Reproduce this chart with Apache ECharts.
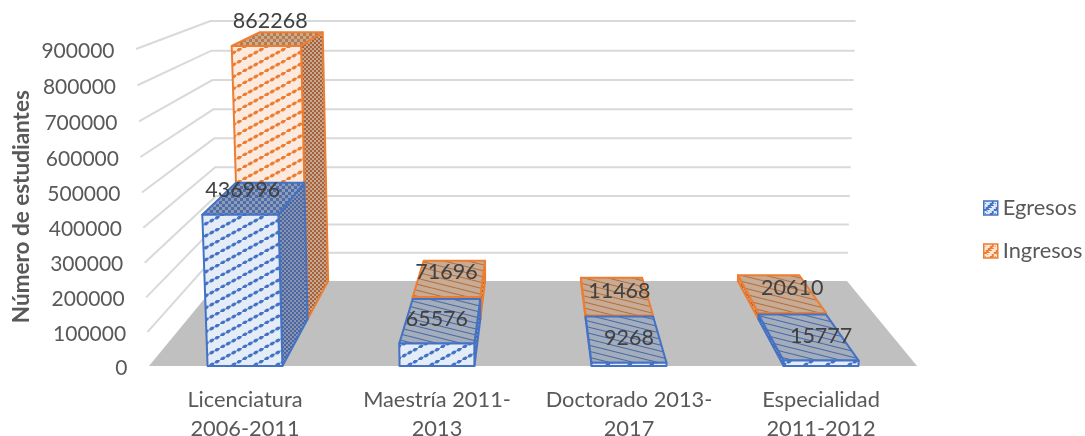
<!DOCTYPE html>
<html><head><meta charset="utf-8">
<style>html,body{margin:0;padding:0;background:#fff}#c{width:1085px;height:436px}</style>
<script src="https://cdn.jsdelivr.net/npm/echarts@6/dist/echarts.min.js"></script>
</head><body><div id="c"></div>
<script>
const categories = ['Licenciatura\n2006-2011','Maestría 2011-\n2013','Doctorado 2013-\n2017','Especialidad\n2011-2012'];
const egresos = [436996,65576,9268,15777];
const ingresos = [862268,71696,11468,20610];
const tickValues = [0,100000,200000,300000,400000,500000,600000,700000,800000,900000];

const FONT='Lato';
const BLUE='#4472C4', ORANGE='#ED7D31';
// perspective of the 3-D box: depth d runs 0 (front) .. 1 (back)
const GRID={left:149,right:168,top:47.4,bottom:70};
const W=1085,H=436, VX=533, FRONT_Y=H-GRID.bottom, SPAN=FRONT_Y-GRID.top;
const P=-0.0327, Q=0.223, DEPTH_DY=-22.3;
function project(fx,fy,d){
  const v=(FRONT_Y-fy)/SPAN, w=1+P*v+Q*d;
  return [VX+(fx-VX)/w,(fy+DEPTH_DY*d)/w];
}
function tile(w,h,bg,draw){
  const c=document.createElement('canvas');c.width=w;c.height=h;
  const g=c.getContext('2d');g.fillStyle=bg;g.fillRect(0,0,w,h);draw(g);
  return {image:c,repeat:'repeat'};
}
function beads(bg,col){return tile(22,12,bg,g=>{
  g.strokeStyle=col;g.lineWidth=1.1;g.globalAlpha=.6;
  g.beginPath();g.moveTo(0,12);g.lineTo(22,0);g.stroke();g.globalAlpha=1;
  g.fillStyle=col;
  for(let k=0;k<4;k++){const x=k*5.5+2.75,y=12-x*12/22;g.beginPath();g.ellipse(x,y,2.5,1.7,-0.5,0,7);g.fill();}
});}
function dots(bg,col,s){return tile(s,s,bg,g=>{
  g.fillStyle=col;g.fillRect(0,0,s/2,s/2);g.fillRect(s/2,s/2,s/2,s/2);
});}
function hatch(bg,col){return tile(24,6,bg,g=>{
  g.strokeStyle=col;g.lineWidth=1.1;
  for(const o of [-6,0,6]){g.beginPath();g.moveTo(0,o);g.lineTo(24,o+6);g.stroke();}
});}
const SKIN={
 Egresos:{line:BLUE,front:beads('#e4ecf8',BLUE),side:dots('#8795b0','#4a659f',4),top:dots('#8d9cb8','#4d6ca8',6),flat:hatch('#a4adbc','#4a6aa6')},
 Ingresos:{line:ORANGE,front:beads('#fdeade',ORANGE),side:dots('#c4a893','#a8623a',4),top:dots('#c9ab92','#b87a4a',6),flat:hatch('#c8ab94','#b4703f')}
};
function legendIcon(col,bg){return tile(10,10,bg,g=>{g.fillStyle=col;for(let k=0;k<5;k++){g.fillRect(k*2,8-k*2,3,3);g.fillRect(k*2+5>9?k*2-5:k*2+5,8-k*2,1,1);}});}
function poly(points,fill,line){return {type:'polygon',shape:{points},style:{fill,stroke:line,lineWidth:2,lineJoin:'round'}};}
function barItem(name,d0,d1,params,api){
  const i=api.value(0), val=api.value(1), skin=SKIN[name];
  const half=api.size([1,0])[0]*0.195;
  const b=api.coord([i,0]), t=api.coord([i,val]);
  const xl=b[0]-half, xr=b[0]+half;
  const corner=(x,top,d)=>project(x,top?t[1]:b[1],d);
  const ch=[];
  const lf=[corner(xl,0,d0),corner(xr,0,d0),corner(xr,1,d0),corner(xl,1,d0)];
  const tp=[corner(xl,1,d0),corner(xr,1,d0),corner(xr,1,d1),corner(xl,1,d1)];
  if(xr<VX) ch.push(poly([corner(xr,0,d0),corner(xr,0,d1),corner(xr,1,d1),corner(xr,1,d0)],skin.side,skin.line));
  if(xl>VX) ch.push(poly([corner(xl,0,d0),corner(xl,0,d1),corner(xl,1,d1),corner(xl,1,d0)],skin.side,skin.line));
  ch.push(poly(tp,i===0?skin.top:skin.flat,skin.line));
  ch.push(poly(lf,skin.front,skin.line));
  const labY=project(b[0],t[1],d0)[1], labX=project(b[0],(b[1]+t[1])/2,d0)[0];
  ch.push({type:'text',z2:50,style:{text:String(val),x:labX,y:labY-25,align:'center',verticalAlign:'middle',fontFamily:FONT,fontSize:21.5,fill:'#404040'}});
  return {type:'group',children:ch};
}
const chart=echarts.init(document.getElementById('c'),null,{renderer:'canvas'});
chart.setOption({
  animation:false,backgroundColor:'#fff',
  grid:{left:GRID.left,right:GRID.right,top:GRID.top,bottom:GRID.bottom,outerBoundsMode:'none',containLabel:false},
  legend:{orient:'vertical',left:983,top:197,itemWidth:14,itemHeight:14,itemGap:21,icon:'rect',padding:0,
    textStyle:{fontFamily:FONT,fontSize:21.8,color:'#595959',padding:[0,0,0,0]},
    data:[{name:'Egresos',itemStyle:{color:legendIcon(BLUE,'#dfe8f7'),borderColor:BLUE,borderWidth:1.5}},
          {name:'Ingresos',itemStyle:{color:legendIcon(ORANGE,'#fde6d8'),borderColor:ORANGE,borderWidth:1.5}}]},
  xAxis:{type:'category',data:categories,axisLine:{show:false},axisTick:{show:false},splitLine:{show:false},
    axisLabel:{interval:0,margin:19,fontFamily:FONT,fontSize:21.8,lineHeight:29,color:'#595959'}},
  yAxis:{type:'value',min:0,max:900000,interval:100000,
    axisLine:{show:false},axisTick:{show:false},splitLine:{show:false},axisLabel:{show:false},
    name:'Número de estudiantes',nameLocation:'middle',nameRotate:90,nameGap:116,
    nameTextStyle:{fontFamily:FONT,fontSize:22.5,fontWeight:'bold',color:'#595959'}},
  series:[
   {type:'custom',name:'Suelo',silent:true,z:1,data:[[0,0]],
    renderItem(params,api){
      const b0=api.coord([0,0]), band=api.size([1,0])[0];
      const L=b0[0]-band/2, R=L+band*categories.length, y=b0[1];
      return {type:'polygon',shape:{points:[project(L,y,0),project(R,y,0),project(R,y,1),project(L,y,1)]},style:{fill:'#c0c0c0',stroke:null}};
    }},
   {type:'custom',name:'Rejilla',silent:true,z:2,data:tickValues.map(v=>[0,v]),
    renderItem(params,api){
      const val=api.value(1), c=api.coord([0,val]), band=api.size([1,0])[0];
      const L=c[0]-band/2, R=L+band*categories.length, y=c[1];
      const fl=project(L,y,0), bl=project(L,y,1), br=project(R,y,1);
      const st={stroke:'#d9d9d9',lineWidth:2,fill:null};
      const ch=[];
      if(val>0) ch.push({type:'polyline',shape:{points:[fl,bl,br]},style:st});
      ch.push({type:'text',style:{text:String(val),x:fl[0]-21.5,y:fl[1]+2,align:'right',verticalAlign:'middle',fontFamily:FONT,fontSize:21,fill:'#595959'}});
      return {type:'group',children:ch};
    }},
   {type:'custom',name:'Ingresos',z:3,silent:true,data:ingresos.map((v,i)=>[i,v]),encode:{x:0,y:1},
    itemStyle:{color:ORANGE},renderItem:(p,a)=>barItem('Ingresos',0.5,1,p,a)},
   {type:'custom',name:'Egresos',z:4,silent:true,data:egresos.map((v,i)=>[i,v]),encode:{x:0,y:1},
    itemStyle:{color:BLUE},renderItem:(p,a)=>barItem('Egresos',0,0.5,p,a)}
  ]
});
</script></body></html>
